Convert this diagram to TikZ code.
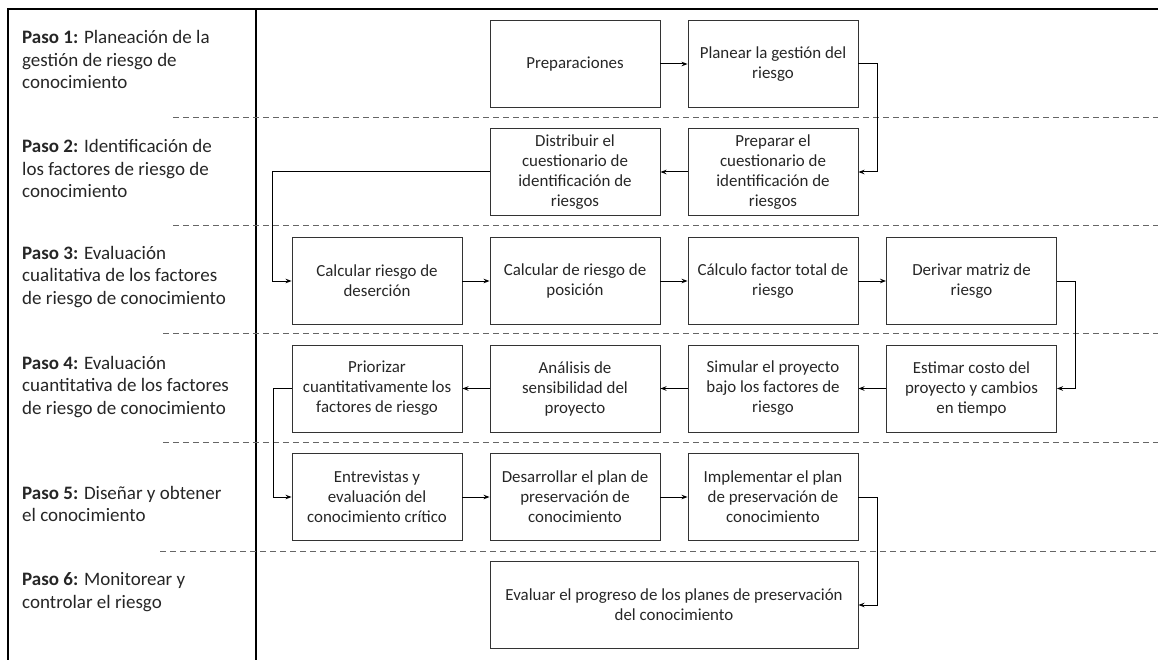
\documentclass[tikz,border=0pt]{standalone}
\usepackage{fontspec}
\setmainfont{Carlito}
\usetikzlibrary{arrows.meta}
\begin{document}
\begin{tikzpicture}[x=1pt,y=-1pt,
  box/.style={draw=black!80,line width=0.9pt,minimum width=170pt,minimum height=87pt,inner sep=0pt,align=center,
    font=\fontsize{16.9}{20}\selectfont,text=black!85},
  lbl/.style={anchor=base west,align=left,inner sep=0pt,font=\fontsize{19}{22.5}\selectfont,text=black!85},
  arr/.style={line width=1pt,-{Stealth[length=6pt,width=4.5pt]}},
  sep/.style={draw=black!60,line width=1pt,dash pattern=on 6pt off 4pt},
  frame/.style={line width=2pt,black}]
\useasboundingbox (0,0) rectangle (1158,660);
% frame
\draw[frame] (8,660) -- (8,9) -- (1158,9);
\draw[frame] (256,9) -- (256,660);
% separators
\draw[sep] (173,118) -- (1158,118);
\draw[sep] (173,226) -- (1158,226);
\draw[sep] (163,333) -- (1158,333);
\draw[sep] (163,442) -- (1158,442);
\draw[sep] (160,551) -- (1158,551);
% labels (anchor = baseline of last line)
\node[lbl] (l1) at (22,89) {\textbf{Paso 1:} Planeación de la\\gestión de riesgo de\\conocimiento};
\node[lbl] (l2) at (22,198) {\textbf{Paso 2:} Identificación de\\los factores de riesgo de\\conocimiento};
\node[lbl] (l3) at (22,304) {\textbf{Paso 3:} Evaluación\\cualitativa de los factores\\de riesgo de conocimiento};
\node[lbl] (l4) at (22,414) {\textbf{Paso 4:} Evaluación\\cuantitativa de los factores\\de riesgo de conocimiento};
\node[lbl] (l5) at (22,521.5) {\textbf{Paso 5:} Diseñar y obtener\\el conocimiento};
\node[lbl] (l6) at (22,608) {\textbf{Paso 6:} Monitorear y\\controlar el riesgo};
% row 1
\node[box] (prep) at (575,64) {Preparaciones};
\node[box] (plan) at (773,64) {Planear la gestión del\\riesgo};
% row 2
\node[box] (dist) at (575,172) {Distribuir el\\cuestionario de\\identificación de\\riesgos};
\node[box] (prq) at (773,172) {Preparar el\\cuestionario de\\identificación de\\riesgos};
% row 3
\node[box] (des) at (377,281) {Calcular riesgo de\\deserción};
\node[box] (pos) at (575,281) {Calcular de riesgo de\\posición};
\node[box] (tot) at (773,281) {Cálculo factor total de\\riesgo};
\node[box] (der) at (971.5,281) {Derivar matriz de\\riesgo};
% row 4
\node[box] (pri) at (377,388.5) {Priorizar\\cuantitativamente los\\factores de riesgo};
\node[box] (ana) at (575,388.5) {Análisis de\\sensibilidad del\\proyecto};
\node[box] (sim) at (773,388.5) {Simular el proyecto\\bajo los factores de\\riesgo};
\node[box] (est) at (971.5,388.5) {Estimar costo del\\proyecto y cambios\\en tiempo};
% row 5
\node[box] (ent) at (377,497) {Entrevistas y\\evaluación del\\conocimiento crítico};
\node[box] (des2) at (575,497) {Desarrollar el plan de\\preservación de\\conocimiento};
\node[box] (imp) at (773,497) {Implementar el plan\\de preservación de\\conocimiento};
% row 6
\node[box,minimum width=368pt] (eva) at (674,605) {Evaluar el progreso de los planes de preservación\\del conocimiento};
% connectors
\draw[arr] (prep) -- (plan);
\draw[arr] (plan.east) -- ++(19,0) |- (prq.east);
\draw[arr] (prq) -- (dist);
\draw[arr] (dist.west) -- ++(-217,0) |- (des.west);
\draw[arr] (des) -- (pos);
\draw[arr] (pos) -- (tot);
\draw[arr] (tot) -- (der);
\draw[arr] (der.east) -- ++(19,0) |- (est.east);
\draw[arr] (est) -- (sim);
\draw[arr] (sim) -- (ana);
\draw[arr] (ana) -- (pri);
\draw[arr] (pri.west) -- ++(-18,0) |- (ent.west);
\draw[arr] (ent) -- (des2);
\draw[arr] (des2) -- (imp);
\draw[arr] (imp.east) -- ++(19,0) |- (eva.east);
\end{tikzpicture}
\end{document}
